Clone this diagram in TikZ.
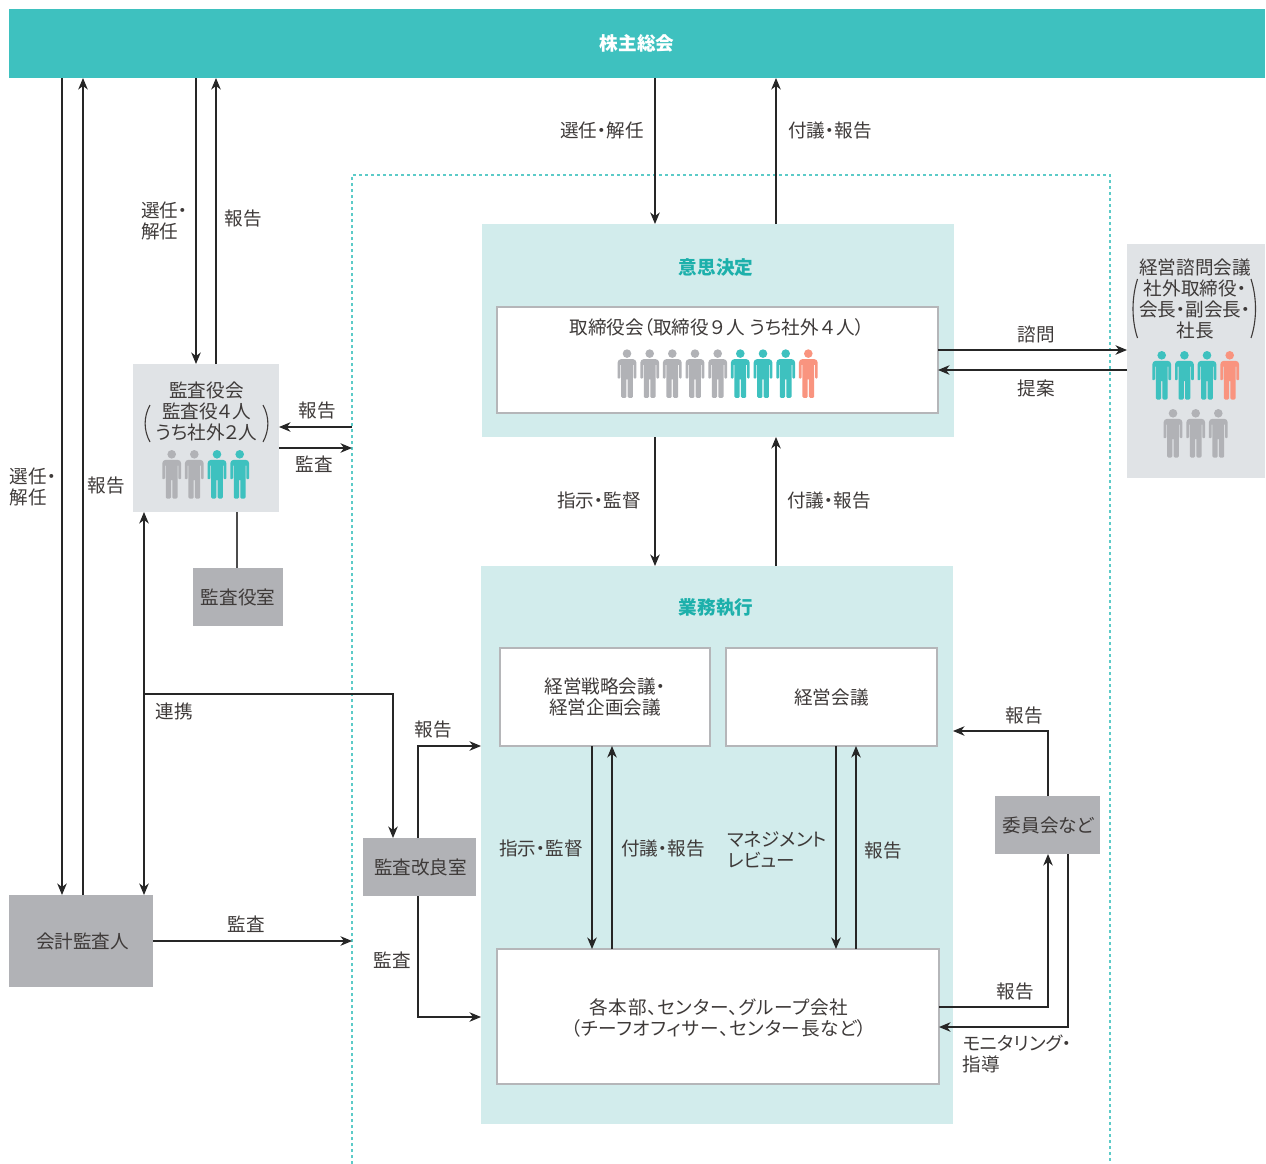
\documentclass[tikz,border=0pt]{standalone}
\usepackage{fontspec}
\setmainfont{Noto Sans CJK JP}[RawFeature=+palt]
\usetikzlibrary{arrows.meta}
\definecolor{ink}{HTML}{3E3A39}
\definecolor{teal}{HTML}{3EC1BF}
\definecolor{titleteal}{HTML}{1DB0AB}
\definecolor{panel}{HTML}{D2ECEC}
\definecolor{pale}{HTML}{E0E3E6}
\definecolor{pgray}{HTML}{B1B2B6}
\definecolor{coral}{HTML}{F9947F}
\definecolor{rim}{HTML}{B5B6B9}
\definecolor{framecol}{HTML}{5CCBC8}
\tikzset{
    person/.pic={
        \path[pic actions] (0,4.3) circle[radius=4.3];
        \path[pic actions] (-9.4,28) [rounded corners=3.5pt] -- (-9.4,9.8) -- (9.4,9.8) [rounded corners=1pt] -- (9.4,29.2) -- (6.7,29.2) [sharp corners] -- (6.7,15.5) -- (5.9,15.5) [rounded corners=1.2pt] -- (5.9,48.5) -- (0.6,48.5) [sharp corners] -- (0.6,30) -- (-0.6,30) [rounded corners=1.2pt] -- (-0.6,48.5) -- (-5.9,48.5) [sharp corners] -- (-5.9,15.5) -- (-6.7,15.5) [rounded corners=1pt] -- (-6.7,29.2) -- (-9.4,29.2) -- cycle;
    }
}

\begin{document}
\begin{tikzpicture}[
    x=1pt, y=-1pt, >={Stealth[length=11.5pt,width=9.5pt,inset=3.5pt]},
    txt/.style={font=\fontsize{18.6}{21}\selectfont, text=ink, align=center, inner sep=0pt},
    txtl/.style={txt, align=left, anchor=west},
    title/.style={txt, font=\fontsize{18.6}{21}\selectfont\bfseries, text=titleteal},
    box/.style={rectangle, inner sep=0pt, outer sep=0pt, minimum width=#1},
    panelbox/.style={box=#1, fill=panel},
    palebox/.style={box=#1, fill=pale},
    graybox/.style={box=#1, fill=pgray, txt},
    whitebox/.style={box=#1, fill=white, draw=rim, line width=1.2pt, txt},
    uni/.style={->, line width=1.15pt, draw=black!85},
    tie/.style={line width=1.15pt, draw=black!70},
    paren/.style={line width=1.1pt, draw=ink},
    limit/.style={line width=2pt, draw=framecol, dash pattern=on 3pt off 3pt}
]
    \useasboundingbox (0,0) rectangle (1266,1164);

    % Outer dashed frame, open at the bottom
    \draw[limit] (352,1164) |- (1110,175) -- (1110,1164);
    \coordinate (frameA) at (352,427);
    \coordinate (frameB) at (352,448);
    \coordinate (frameC) at (352,941);
    \coordinate (renkei) at (144,694);

    % Boxes
    \node[box=1256pt, minimum height=69pt, fill=teal, font=\fontsize{18.6}{21}\selectfont\bfseries, text=white] (soukai) at (637,43.5) {\raisebox{1pt}{株主総会}};
    \node[panelbox=472pt, minimum height=213pt] (ishi) at (718,330.5) {};
    \node[whitebox=441pt, minimum height=106pt] (torishimari) at (717.5,360) {};
    \node[palebox=138pt, minimum height=234pt] (shimon) at (1196,361) {};
    \node[palebox=146pt, minimum height=148pt] (kansayaku) at (206,438) {};
    \node[graybox=90pt, minimum height=58pt] (shitsu) at (238,597) {監査役室};
    \node[graybox=144pt, minimum height=92pt] (kaikei) at (81,941) {\hspace{3pt}会計監査人};
    \node[graybox=113pt, minimum height=58pt] (kaizen) at (419.5,867) {\hspace{2pt}監査改良室};
    \node[panelbox=472pt, minimum height=558pt] (gyomu) at (717,845) {};
    \node[whitebox=210pt, minimum height=98pt] (senryaku) at (605,697) {経営戦略会議・\\経営企画会議};
    \node[whitebox=211pt, minimum height=98pt] (keieikaigi) at (831.5,697) {経営会議};
    \node[whitebox=442pt, minimum height=135pt] (honbu) at (718,1016.5) {};
    \node[graybox=105pt, minimum height=58pt] (iinkai) at (1047.5,825) {\hspace{2pt}委員会など};

    % Texts inside the boxes
    \node[title] (ishinode) at (716,267) {意思決定};
    \node[title] (gyomunode) at (716,608) {業務執行};
    \node[txt] (torinode) at (717,327.5) {取締役会（取締役\kern1.8pt ９\kern1.8pt 人 うち社外\kern1.8pt ４\kern1.8pt 人）};
    \node[txt] (shimonnode) at (1195,298.5) {経営諮問会議\\社外取締役・\\会長・副会長・\\社長};
    \node[txt] (kansanode) at (206.5,411.5) {監査役会\\監査役４人\\うち社外２人};
    \node[txt, font=\fontsize{18.6}{21}\selectfont\addfontfeature{LetterSpace=4}] (honbunode) at (719,1018) {各本部、センター、グループ会社\\（チーフオフィサー、センター長など）};

    % Brackets
    \draw[paren] (1137.5,279) .. controls (1131.5,298) and (1131.5,320) .. (1137.5,338);
    \draw[paren] (1251,279) .. controls (1257,298) and (1257,320) .. (1251,338);
    \draw[paren] (150,405) .. controls (143.5,417) and (143.5,430) .. (150,442);
    \draw[paren] (263,405) .. controls (269.5,417) and (269.5,430) .. (263,442);

    % People
    \pic[fill=pgray] at (627,349.3) {person};
    \pic[fill=pgray] at (649.7,349.3) {person};
    \pic[fill=pgray] at (672.3,349.3) {person};
    \pic[fill=pgray] at (695,349.3) {person};
    \pic[fill=pgray] at (717.7,349.3) {person};
    \pic[fill=teal] at (740.3,349.3) {person};
    \pic[fill=teal] at (763,349.3) {person};
    \pic[fill=teal] at (785.7,349.3) {person};
    \pic[fill=coral] at (808.3,349.3) {person};

    \pic[fill=teal] at (1161.7,351) {person};
    \pic[fill=teal] at (1184.4,351) {person};
    \pic[fill=teal] at (1207,351) {person};
    \pic[fill=coral] at (1229.7,351) {person};
    \pic[fill=pgray] at (1173,409) {person};
    \pic[fill=pgray] at (1195.7,409) {person};
    \pic[fill=pgray] at (1218.3,409) {person};

    \pic[fill=pgray] at (171.7,450) {person};
    \pic[fill=pgray] at (194.3,450) {person};
    \pic[fill=teal] at (217,450) {person};
    \pic[fill=teal] at (239.7,450) {person};

    % Connectors
    \draw[uni] ([xshift=-575pt]soukai.south) -- ([xshift=-19pt]kaikei.north);
    \draw[uni] ([xshift=2pt]kaikei.north) -- ([xshift=-554pt]soukai.south);
    \draw[uni] ([xshift=-441pt]soukai.south) -- ([xshift=-10pt]kansayaku.north);
    \draw[uni] ([xshift=10pt]kansayaku.north) -- ([xshift=-421pt]soukai.south);
    \draw[uni] ([xshift=18pt]soukai.south) -- ([xshift=-63pt]ishi.north);
    \draw[uni] ([xshift=58pt]ishi.north) -- ([xshift=139pt]soukai.south);

    \draw[uni] ([yshift=10pt]torishimari.east) -- ([yshift=11pt]shimon.west);
    \draw[uni] ([yshift=-9pt]shimon.west) -- ([yshift=-10pt]torishimari.east);

    \draw[uni] (frameA) -- ([yshift=11pt]kansayaku.east);
    \draw[uni] ([yshift=-10pt]kansayaku.east) -- (frameB);
    \draw[tie] ([xshift=31pt]kansayaku.south) -- ([xshift=-1pt]shitsu.north);
    \draw[uni, <->] ([xshift=-62pt]kansayaku.south) -- ([xshift=63pt]kaikei.north);
    \draw[uni] (renkei) -| ([xshift=-26.5pt]kaizen.north);
    \draw[uni] (kaikei.east) -- (frameC);

    \draw[uni] ([xshift=-63pt]ishi.south) -- ([xshift=-62pt]gyomu.north);
    \draw[uni] ([xshift=59pt]gyomu.north) -- ([xshift=58pt]ishi.south);

    \draw[uni] ([xshift=-1.5pt]kaizen.north) |- ([yshift=99pt]gyomu.west);
    \draw[uni] ([xshift=-1.5pt]kaizen.south) |- ([yshift=-172pt]gyomu.west);

    \draw[uni] ([xshift=-13pt]senryaku.south) -- ([xshift=-126pt]honbu.north);
    \draw[uni] ([xshift=-106pt]honbu.north) -- ([xshift=7pt]senryaku.south);
    \draw[uni] ([xshift=4.5pt]keieikaigi.south) -- ([xshift=118pt]honbu.north);
    \draw[uni] ([xshift=138pt]honbu.north) -- ([xshift=24.5pt]keieikaigi.south);

    \draw[uni] ([xshift=0.5pt]iinkai.north) |- ([yshift=114pt]gyomu.east);
    \draw[uni] ([yshift=9.5pt]honbu.east) -| ([xshift=0.5pt]iinkai.south);
    \draw[uni] ([xshift=20.5pt]iinkai.south) |- ([yshift=-10.5pt]honbu.east);

    % Names on the connectors
    \node[txt] (senninA) at (602,130.5) {選任・解任};
    \node[txt] (fugiA) at (830,130.5) {付議・報告};
    \node[txtl] (senninB) at (141,221) {選任・\\解任};
    \node[txt] (houkokuB) at (243,218.5) {報告};
    \node[txtl] (senninC) at (9.5,487) {選任・\\解任};
    \node[txt] (houkokuC) at (106,485.5) {報告};
    \node[txt] (shimonA) at (1036,334.5) {諮問};
    \node[txt] (teian) at (1036,388.5) {提案};
    \node[txt] (houkokuD) at (317,410.5) {報告};
    \node[txt] (kansaD) at (314,464.5) {監査};
    \node[txt] (shijiA) at (599,500.5) {指示・監督};
    \node[txt] (fugiB) at (829,500.5) {付議・報告};
    \node[txt] (renkeinode) at (174,711.5) {連携};
    \node[txt] (houkokuE) at (433,729.5) {報告};
    \node[txt] (kansaE) at (246.5,924.5) {監査};
    \node[txt] (kansaF) at (392,960.5) {監査};
    \node[txt] (shijiB) at (541,848.5) {指示・監督};
    \node[txt] (fugiC) at (663,848.5) {付議・報告};
    \node[txtl] (review) at (727,850) {マネジメント\\レビュー};
    \node[txt] (houkokuF) at (883.5,850.5) {報告};
    \node[txt] (houkokuG) at (1024.5,715.5) {報告};
    \node[txt] (houkokuH) at (1015.5,991.5) {報告};
    \node[txtl] (monitor) at (962.5,1053.5) {モニタリング・\\指導};
\end{tikzpicture}
\end{document}
